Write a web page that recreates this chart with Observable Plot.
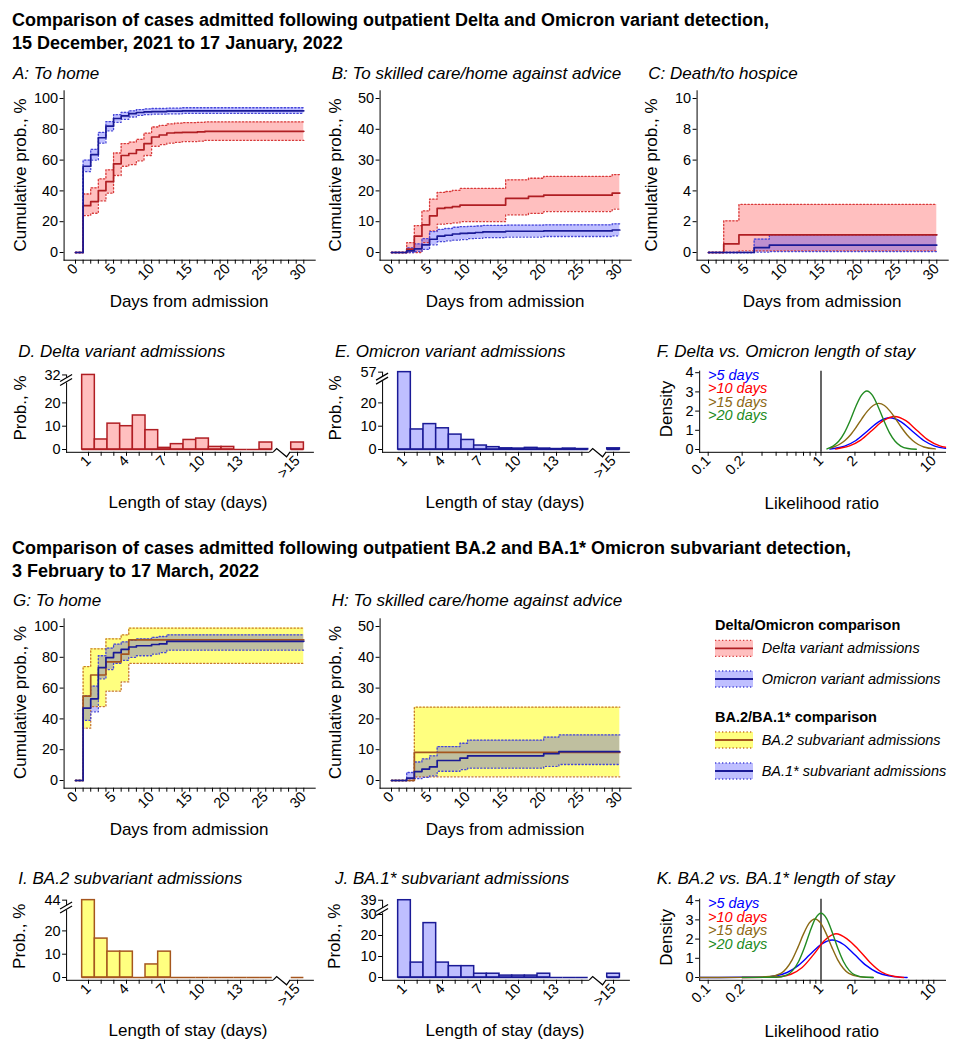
<!DOCTYPE html>
<html>
<head>
<meta charset="utf-8">
<script src="https://cdn.jsdelivr.net/npm/d3@7"></script>
<script src="https://cdn.jsdelivr.net/npm/@observablehq/plot@0.6"></script>
<style>
html,body{margin:0;padding:0;background:#fff;}
#page{position:relative;width:959px;height:1050px;overflow:hidden;background:#fff;}
.pw{position:absolute;}
.pw svg{background:transparent !important;overflow:visible;}
.pw g[aria-label$="axis"] text{font-family:"Liberation Sans",Arial,sans-serif;font-size:14.5px;fill:#000;}
#overlay{position:absolute;left:0;top:0;pointer-events:none;}
#overlay text{font-family:"Liberation Sans",Arial,sans-serif;}
</style>
</head>
<body>
<div id="page"></div>
<script>
// ======================= TEXT =======================
const sectionTitles = [
  ["Comparison of cases admitted following outpatient Delta and Omicron variant detection,", "15 December, 2021 to 17 January, 2022"],
  ["Comparison of cases admitted following outpatient BA.2 and BA.1* Omicron subvariant detection,", "3 February to 17 March, 2022"]
];
const panelTitles = {
  A: "A: To home", B: "B: To skilled care/home against advice", C: "C: Death/to hospice",
  D: "D. Delta variant admissions", E: "E. Omicron variant admissions", F: "F. Delta vs. Omicron length of stay",
  G: "G: To home", H: "H: To skilled care/home against advice",
  I: "I. BA.2 subvariant admissions", J: "J. BA.1* subvariant admissions", K: "K. BA.2 vs. BA.1* length of stay"
};
const axisTitles = {km: ["Days from admission", "Cumulative prob., %"], hist: ["Length of stay (days)", "Prob., %"], dens: ["Likelihood ratio", "Density"]};
const legendGroups = ["Delta/Omicron comparison", "BA.2/BA.1* comparison"];
const legendItems = ["Delta variant admissions", "Omicron variant admissions", "BA.2 subvariant admissions", "BA.1* subvariant admissions"];
const densLabels = [">5 days", ">10 days", ">15 days", ">20 days"];

// ======================= TICKS =======================
const kmTickValues = d3.range(0, 31);
const kmTickLabels = [0, 5, 10, 15, 20, 25, 30];
const kmYTicksA = [0, 20, 40, 60, 80, 100];
const kmYTicksB = [0, 10, 20, 30, 40, 50];
const kmYTicksC = [0, 2, 4, 6, 8, 10];
const histDays = [1, 2, 3, 4, 5, 6, 7, 8, 9, 10, 11, 12, 13, 14, 15, ">15"];
const histTickLabels = ["1", "4", "7", "10", "13", ">15"];
const densTickValues = [0.1, 0.2, 0.3, 0.4, 0.5, 0.6, 0.7, 0.8, 0.9, 1, 2, 3, 4, 5, 6, 7, 8, 9, 10];
const densTickLabels = [0.1, 0.2, 1, 2, 10];
const densYTicks = [0, 1, 2, 3, 4];

// ======================= KM DATA (cumulative prob., %) =======================
// Panel A: to home
const A_delta_t   = [0, 1, 2, 3, 4, 5, 6, 7, 8, 9, 10, 11, 12, 13, 14, 16, 17, 30];
const A_delta_est = [0, 30.4, 33.0, 40.2, 46.0, 57.6, 63.0, 64.3, 66.7, 70.7, 75.0, 76.3, 77.6, 77.8, 78.0, 78.3, 78.7, 78.7];
const A_delta_lo  = [0, 24.0, 25.5, 33.5, 38.5, 50.0, 56.0, 57.0, 59.5, 63.0, 69.0, 70.0, 71.0, 71.5, 72.0, 72.3, 72.8, 72.8];
const A_delta_hi  = [0, 38.0, 42.0, 47.8, 53.7, 64.6, 70.7, 71.7, 73.5, 77.5, 81.5, 82.5, 83.5, 84.0, 84.3, 84.5, 84.8, 84.8];
const A_omi_t   = [0, 1, 2, 3, 4, 5, 6, 7, 8, 9, 10, 12, 14, 30];
const A_omi_est = [0, 56.0, 63.5, 74.5, 82.0, 87.0, 88.7, 90.2, 90.9, 91.3, 91.5, 91.8, 92.0, 92.0];
const A_omi_lo  = [0, 52.5, 60.0, 71.0, 79.0, 84.5, 86.5, 88.0, 89.0, 89.5, 89.8, 90.0, 90.3, 90.3];
const A_omi_hi  = [0, 60.0, 67.0, 78.0, 85.0, 89.5, 91.0, 92.0, 92.8, 93.2, 93.5, 93.7, 94.0, 94.0];
// Panel B: to skilled care / home against advice
const B_delta_t   = [0, 2, 3, 4, 5, 6, 7, 8, 9, 15, 18, 20, 29, 30];
const B_delta_est = [0, 1.1, 5.3, 9.0, 11.9, 14.3, 14.6, 14.9, 15.4, 17.6, 18.2, 18.6, 19.3, 19.3];
const B_delta_lo  = [0, 0, 0, 3.2, 7.0, 9.2, 9.4, 9.6, 10.0, 12.2, 12.7, 13.3, 14.1, 14.1];
const B_delta_hi  = [0, 3.2, 8.7, 13.5, 17.3, 19.5, 19.8, 20.2, 20.8, 23.6, 24.1, 24.7, 25.3, 25.3];
const B_omi_t   = [0, 2, 3, 4, 5, 6, 7, 8, 9, 10, 11, 12, 15, 20, 29, 30];
const B_omi_est = [0, 0.5, 1.2, 2.5, 4.3, 5.3, 5.6, 6.0, 6.2, 6.3, 6.5, 6.7, 6.9, 7.0, 7.3, 7.3];
const B_omi_lo  = [0, 0, 0.3, 1.0, 2.5, 3.5, 3.8, 4.0, 4.2, 4.5, 4.6, 4.8, 5.0, 5.2, 5.4, 5.4];
const B_omi_hi  = [0, 1.5, 2.8, 4.5, 6.8, 7.5, 7.8, 8.2, 8.4, 8.5, 8.6, 8.8, 8.9, 9.0, 9.3, 9.3];
// Panel C: death / to hospice
const C_delta_t   = [0, 2, 4, 30];
const C_delta_est = [0, 0.56, 1.15, 1.15];
const C_delta_lo  = [0, 0, 0.1, 0.1];
const C_delta_hi  = [0, 2.06, 3.12, 3.12];
const C_omi_t   = [0, 6, 8, 30];
const C_omi_est = [0, 0.32, 0.48, 0.48];
const C_omi_lo  = [0, 0.03, 0.06, 0.06];
const C_omi_hi  = [0, 0.87, 1.15, 1.15];
// Panel G: to home (BA.2 vs BA.1*)
const G_ba2_t   = [0, 1, 2, 4, 6, 7, 30];
const G_ba2_est = [0, 54.8, 68.5, 77.0, 82.0, 91.3, 91.3];
const G_ba2_lo  = [0, 34.0, 48.0, 58.0, 64.0, 76.0, 76.0];
const G_ba2_hi  = [0, 74.0, 85.5, 92.0, 94.5, 99.0, 99.0];
const G_ba1_t   = [0, 1, 2, 3, 4, 5, 6, 7, 8, 10, 11, 12, 30];
const G_ba1_est = [0, 47.0, 53.0, 73.3, 79.8, 83.0, 85.2, 86.7, 87.5, 88.3, 88.7, 90.4, 90.4];
const G_ba1_lo  = [0, 39.0, 44.6, 66.0, 72.0, 76.0, 78.0, 80.0, 81.0, 82.0, 83.0, 84.6, 84.6];
const G_ba1_hi  = [0, 55.0, 61.3, 81.0, 86.0, 88.5, 90.0, 91.0, 92.0, 93.0, 93.5, 94.6, 94.6];
// Panel H: to skilled care / home against advice (BA.2 vs BA.1*)
const H_ba2_t   = [0, 3, 30];
const H_ba2_est = [0, 9.1, 9.1];
const H_ba2_lo  = [0, 1.2, 1.2];
const H_ba2_hi  = [0, 23.8, 23.8];
const H_ba1_t   = [0, 2, 3, 4, 5, 6, 9, 10, 20, 22, 30];
const H_ba1_est = [0, 0.8, 2.9, 3.7, 4.4, 6.5, 7.25, 8.0, 8.7, 9.4, 9.4];
const H_ba1_lo  = [0, 0, 0.6, 1.0, 1.5, 3.0, 3.5, 4.0, 4.6, 5.2, 5.2];
const H_ba1_hi  = [0, 2.6, 6.0, 7.0, 8.0, 11.0, 12.1, 13.1, 14.1, 14.8, 14.8];

// ======================= HISTOGRAM DATA (prob., %) =======================
const D_vals = [32, 4.3, 11.1, 10.0, 14.6, 8.3, 0.7, 2.3, 4.1, 4.7, 1.1, 1.1, 0, 0, 3.0, 3.0];
const E_vals = [57, 8.6, 10.9, 9.1, 6.4, 4.1, 1.7, 1.0, 0.5, 0.4, 0.7, 0.4, 0.2, 0.4, 0.2, 0.5];
const I_vals = [44, 16.7, 11.1, 11.1, 0, 5.6, 11.1, 0, 0, 0, 0, 0, 0, 0, 0, 0];
const J_vals = [39, 7.1, 25.9, 7.1, 5.4, 5.4, 1.8, 1.8, 0.9, 0.9, 0.9, 1.8, 0, 0, 0, 1.8];

// ======================= DENSITY DATA (likelihood ratio, density) =======================
const F_x5  = [1.2, 1.29, 1.62, 2.04, 2.57, 3.24, 4.07, 5.13, 6.46, 8.13, 10.2, 12.7];
const F_y5  = [0.02, 0.05, 0.18, 0.47, 0.95, 1.44, 1.65, 1.44, 0.95, 0.47, 0.18, 0.06];
const F_x10 = [1.35, 1.42, 1.79, 2.25, 2.83, 3.57, 4.49, 5.65, 7.11, 8.95, 11.3, 12.7];
const F_y10 = [0.02, 0.05, 0.19, 0.49, 0.99, 1.50, 1.72, 1.50, 0.99, 0.49, 0.19, 0.12];
const F_x15 = [1.2, 1.29, 1.45, 1.63, 1.83, 2.05, 2.30, 2.58, 2.90, 3.25, 3.65, 4.09, 4.59, 5.15, 5.78, 6.49, 7.28, 8.17, 10.3];
const F_y15 = [0.06, 0.13, 0.26, 0.47, 0.77, 1.16, 1.60, 2.00, 2.29, 2.40, 2.29, 2.00, 1.60, 1.16, 0.77, 0.47, 0.26, 0.13, 0.03];
const F_x20 = [1.13, 1.28, 1.435, 1.61, 1.81, 2.03, 2.28, 2.55, 2.86, 3.21, 3.61, 4.05, 4.54, 5.09, 5.9, 7.0];
const F_y20 = [0.03, 0.18, 0.43, 0.87, 1.50, 2.23, 2.82, 3.05, 2.82, 2.23, 1.50, 0.87, 0.43, 0.18, 0.05, 0.01];
const K_x5  = [0.084, 0.2, 0.316, 0.398, 0.501, 0.631, 0.794, 1.0, 1.259, 1.585, 1.995, 2.512, 3.162, 3.98, 5.01, 5.8];
const K_y5  = [0, 0.01, 0.02, 0.09, 0.26, 0.63, 1.18, 1.72, 1.95, 1.72, 1.18, 0.63, 0.26, 0.09, 0.02, 0];
const K_x10 = [0.2, 0.341, 0.43, 0.541, 0.681, 0.858, 1.08, 1.358, 1.71, 2.153, 2.71, 3.41, 4.3, 5.4];
const K_y10 = [0, 0.01, 0.04, 0.17, 0.52, 1.19, 1.94, 2.28, 2.0, 1.45, 0.8, 0.3, 0.08, 0];
const K_x15 = [0.084, 0.2, 0.35, 0.441, 0.495, 0.556, 0.624, 0.7, 0.785, 0.885, 0.994, 1.114, 1.25, 1.403, 1.574, 1.766, 2.223, 2.9];
const K_y15 = [0, 0.005, 0.05, 0.21, 0.48, 0.93, 1.57, 2.27, 2.83, 3.05, 2.83, 2.27, 1.57, 0.93, 0.48, 0.21, 0.03, 0];
const K_x20 = [0.2, 0.398, 0.501, 0.562, 0.631, 0.708, 0.794, 0.891, 1.0, 1.122, 1.259, 1.413, 1.585, 1.778, 1.995, 2.512, 2.9];
const K_y20 = [0, 0.01, 0.14, 0.37, 0.82, 1.51, 2.35, 3.07, 3.35, 3.07, 2.35, 1.51, 0.82, 0.37, 0.14, 0.01, 0];

// ======================= STYLES =======================
const STY = {
  delta:   {fill: "#FF0000", op: 0.25, line: "#B01E23", dot: "#D83A3A", bar: "#FFBFBF"},
  omicron: {fill: "#0000FF", op: 0.25, line: "#1A1A96", dot: "#4646D8", bar: "#BFBFFF"},
  ba2:     {fill: "#FFFF00", op: 0.5,  line: "#A5561E", dot: "#C8782A", bar: "#FFFF80"},
  ba1:     {fill: "#0000FF", op: 0.25, line: "#1A1A96", dot: "#4646D8", bar: "#BFBFFF"}
};
const densColors = ["#0000FF", "#FF0000", "#8B6914", "#228B22"];

// ======================= BUILD =======================
const page = d3.select("#page");
const SECTION_DY = 527.5;
const FONT = '"Liberation Sans", Arial, sans-serif';

function rows(t, est, lo, hi) { return t.map((v, i) => ({t: v, est: est[i], lo: lo[i], hi: hi[i]})); }
function mount(svg, left, top) {
  page.append("div").attr("class", "pw").style("left", left + "px").style("top", top + "px").node().appendChild(svg);
}
function lin(svg, name) {
  const s = svg.scale(name);
  if (s.type === "log") return d3.scaleLog(s.domain, s.range);
  return d3.scaleLinear(s.domain, s.range);
}

const PPD = 228.3 / 30;
function kmPanel(x0, y0, yMax, yTicks, series) {
  const W = 320, H = 260, pH = 154;
  const left = x0 - 75, top = y0 - 192;
  const marks = [];
  for (const s of series) marks.push(Plot.areaY(s.data, {x: "t", y1: "lo", y2: "hi", curve: "step-after", fill: s.sty.fill, fillOpacity: s.sty.op}));
  for (const s of series) {
    marks.push(Plot.line(s.data, {x: "t", y: "lo", curve: "step-after", stroke: s.sty.dot, strokeWidth: 1.3, strokeDasharray: "1.3,2.2"}));
    marks.push(Plot.line(s.data, {x: "t", y: "hi", curve: "step-after", stroke: s.sty.dot, strokeWidth: 1.3, strokeDasharray: "1.3,2.2"}));
  }
  for (const s of series) marks.push(Plot.line(s.data, {x: "t", y: "est", curve: "step-after", stroke: s.sty.line, strokeWidth: 1.7}));
  const svg = Plot.plot({
    width: W, height: H,
    marginLeft: 75 - 1.5 * PPD, marginRight: W - 75 - 31.5 * PPD,
    marginTop: 192 - 1.05 * pH, marginBottom: H - 192 - 0.05 * pH,
    x: {domain: [-1.5, 31.5], ticks: kmTickValues, tickFormat: d => kmTickLabels.includes(d) ? String(d) : "", tickSize: 4, tickPadding: 2, tickRotate: -45, line: true, label: null},
    y: {domain: [-0.05 * yMax, 1.05 * yMax], ticks: yTicks, tickFormat: d => String(d), tickSize: 4, tickPadding: 2, line: true, label: null},
    style: {background: "transparent", color: "black", overflow: "visible", fontFamily: FONT, fontSize: "14.5px"},
    marks
  });
  mount(svg, left, top);
}

const PPK = 12.67;
function histPanel(x1, y0, ppu, topDisp, topLabel, yTicksLow, breakAt, vals, sty) {
  const W = 320, H = 190, axisPx = 2.8;
  const left = x1 - 88, top = y0 - 119;
  const xd = [-0.73, 18.75];
  const yd = [-axisPx / ppu, topDisp];
  const pos = d => d === ">15" ? 17.5 : d;
  const data = histDays.map((d, i) => ({d, p: pos(d), v: vals[i], disp: vals[i] > 30 ? topDisp : vals[i]}));
  const tickPos = histDays.map(pos);
  const labelPos = histTickLabels.map(l => pos(l === ">15" ? ">15" : +l));
  const yt = yTicksLow.concat([topDisp]);
  const svg = Plot.plot({
    width: W, height: H,
    marginLeft: 88 - (1 - xd[0]) * PPK, marginRight: W - 88 - (xd[1] - 1) * PPK,
    marginTop: 119 - topDisp * ppu, marginBottom: H - 119 - axisPx,
    x: {domain: xd, ticks: tickPos, tickFormat: v => labelPos.includes(v) ? histTickLabels[labelPos.indexOf(v)] : "", tickSize: 4, tickPadding: 2, tickRotate: -45, line: true, label: null},
    y: {domain: yd, ticks: yt, tickFormat: v => v === topDisp ? String(topLabel) : String(v), tickSize: 4, tickPadding: 2, line: true, label: null},
    style: {background: "transparent", color: "black", overflow: "visible", fontFamily: FONT, fontSize: "14.5px"},
    marks: [
      Plot.rect(data, {x1: d => d.p - 0.5, x2: d => d.p + 0.5, y1: 0, y2: "disp", fill: sty.bar, stroke: sty.line, strokeWidth: 1.5}),
      Plot.ruleY(data, {x1: d => d.p - 0.5, x2: d => d.p + 0.5, y: 0, stroke: sty.line, strokeWidth: 1.5})
    ]
  });
  // axis breaks, positioned through the plot's own scales
  const X = lin(svg, "x"), Y = lin(svg, "y");
  const g = d3.select(svg).append("g");
  const ya = Y(yd[0]), xa = X(15.63), xb = X(16.95);
  g.append("rect").attr("x", xa).attr("y", ya - 2.5).attr("width", xb - xa).attr("height", 5).attr("fill", "white");
  g.append("path").attr("d", `M${xa},${ya}L${xa + 3.3},${ya - 3.3}L${xb - 3.5},${ya + 5}L${xb},${ya}`)
    .attr("fill", "none").attr("stroke", "black").attr("stroke-width", 1.2);
  const xA = X(xd[0]), yc = Y(breakAt);
  g.append("rect").attr("x", xA - 2).attr("y", yc - 2.5).attr("width", 4).attr("height", 5).attr("fill", "white");
  for (const o of [-2, 2]) {
    g.append("line").attr("x1", xA - 6).attr("y1", yc + o + 3.5).attr("x2", xA + 6).attr("y2", yc + o - 3.5)
      .attr("stroke", "black").attr("stroke-width", 1.2);
  }
  mount(svg, left, top);
}

const PPDEC = 112.8;
function densPanel(x01, y0, curves) {
  const W = 319, H = 190, axisPx = 2.8, ppu = 19.2;
  const left = x01 - 67.7, top = y0 - 119;
  const xd = [0.084, 12.7];
  const yd = [-axisPx / ppu, 4.08];
  const marks = [Plot.ruleX([1], {stroke: "black", strokeWidth: 1.2})];
  curves.forEach((c, i) => {
    const data = c[0].map((x, j) => ({x, y: c[1][j]}));
    marks.push(Plot.line(data, {x: "x", y: "y", curve: "monotone-x", stroke: densColors[i], strokeWidth: 1.4}));
  });
  const svg = Plot.plot({
    width: W, height: H,
    marginLeft: 67.7 - PPDEC * Math.log10(0.1 / xd[0]), marginRight: W - 67.7 - PPDEC * Math.log10(xd[1] / 0.1),
    marginTop: 119 - yd[1] * ppu, marginBottom: H - 119 - axisPx,
    x: {type: "log", domain: xd, ticks: densTickValues, tickFormat: v => densTickLabels.includes(v) ? String(v) : "", tickSize: 4, tickPadding: 2, tickRotate: -45, line: true, label: null},
    y: {domain: yd, ticks: densYTicks, tickFormat: v => String(v), tickSize: 4, tickPadding: 2, line: true, label: null},
    style: {background: "transparent", color: "black", overflow: "visible", fontFamily: FONT, fontSize: "14.5px"},
    marks
  });
  mount(svg, left, top);
}

// --- Section 1 ---
kmPanel(75, 252, 100, kmYTicksA, [
  {data: rows(A_delta_t, A_delta_est, A_delta_lo, A_delta_hi), sty: STY.delta},
  {data: rows(A_omi_t, A_omi_est, A_omi_lo, A_omi_hi), sty: STY.omicron}]);
kmPanel(391, 252, 50, kmYTicksB, [
  {data: rows(B_delta_t, B_delta_est, B_delta_lo, B_delta_hi), sty: STY.delta},
  {data: rows(B_omi_t, B_omi_est, B_omi_lo, B_omi_hi), sty: STY.omicron}]);
kmPanel(708, 252, 10, kmYTicksC, [
  {data: rows(C_delta_t, C_delta_est, C_delta_lo, C_delta_hi), sty: STY.delta},
  {data: rows(C_omi_t, C_omi_est, C_omi_lo, C_omi_hi), sty: STY.omicron}]);
histPanel(88, 449, 2.33, 32, 32, [0, 10, 20], 29.6, D_vals, STY.delta);
histPanel(404, 449, 2.33, 33.2, 57, [0, 10, 20], 30.2, E_vals, STY.omicron);
densPanel(707.7, 449, [[F_x5, F_y5], [F_x10, F_y10], [F_x15, F_y15], [F_x20, F_y20]]);

// --- Section 2 ---
kmPanel(75, 252 + SECTION_DY, 100, kmYTicksA, [
  {data: rows(G_ba2_t, G_ba2_est, G_ba2_lo, G_ba2_hi), sty: STY.ba2},
  {data: rows(G_ba1_t, G_ba1_est, G_ba1_lo, G_ba1_hi), sty: STY.ba1}]);
kmPanel(391, 252 + SECTION_DY, 50, kmYTicksB, [
  {data: rows(H_ba2_t, H_ba2_est, H_ba2_lo, H_ba2_hi), sty: STY.ba2},
  {data: rows(H_ba1_t, H_ba1_est, H_ba1_lo, H_ba1_hi), sty: STY.ba1}]);
histPanel(88, 976.7, 2.33, 33.2, 44, [0, 10, 20], 29.8, I_vals, STY.ba2);
histPanel(404, 976.7, 2.1, 36.8, 39, [0, 10, 20, 30], 31.9, J_vals, STY.ba1);
densPanel(707.7, 976.7, [[K_x5, K_y5], [K_x10, K_y10], [K_x15, K_y15], [K_x20, K_y20]]);

// ======================= OVERLAY TEXT & LEGEND =======================
const ov = page.append("svg").attr("id", "overlay").attr("width", 959).attr("height", 1050);
function txt(x, y, s, o = {}) {
  const t = ov.append("text").attr("x", x).attr("y", y).text(s)
    .attr("font-size", o.size || 17).attr("font-weight", o.weight || "normal").attr("font-style", o.style || "normal")
    .attr("text-anchor", o.anchor || "start").attr("dominant-baseline", "central").attr("fill", o.fill || "#000");
  if (o.rotate) t.attr("transform", `rotate(${o.rotate},${x},${y})`);
  return t;
}
[0, 1].forEach(s => {
  const dy = s * SECTION_DY;
  txt(12, 20 + dy, sectionTitles[s][0], {weight: "bold", size: 18});
  txt(12, 43 + dy, sectionTitles[s][1], {weight: "bold", size: 18});
});
const titlePos = {A: [13, 73.3], B: [331.7, 73.3], C: [648.3, 73.3], D: [18.3, 351.7], E: [335, 351.7], F: [656.7, 351.7],
  G: [13, 600.8], H: [331.7, 600.8], I: [18.3, 878.3], J: [335, 878.3], K: [656.7, 878.3]};
for (const k in titlePos) txt(titlePos[k][0], titlePos[k][1], panelTitles[k], {style: "italic", size: 17});

// axis titles
[[20, 189, 0], [335, 505, 0], [651.7, 822, 0], [20, 189, SECTION_DY], [335, 505, SECTION_DY]].forEach(([yx, xx, dy]) => {
  txt(yx, 175 + dy, axisTitles.km[1], {anchor: "middle", rotate: -90});
  txt(xx, 301.7 + dy, axisTitles.km[0], {anchor: "middle"});
});
[[20, 188, 0], [335, 505, 0], [20, 188, SECTION_DY + 0.8], [335, 505, SECTION_DY + 0.8]].forEach(([yx, xx, dy]) => {
  txt(yx, 408 + dy, axisTitles.hist[1], {anchor: "middle", rotate: -90});
  txt(xx, 502 + dy, axisTitles.hist[0], {anchor: "middle"});
});
[0, SECTION_DY + 0.8].forEach(dy => {
  txt(666.7, 409 + dy, axisTitles.dens[1], {anchor: "middle", rotate: -90});
  txt(821.7, 503.3 + dy, axisTitles.dens[0], {anchor: "middle"});
  densLabels.forEach((l, i) => txt(708, 375 + i * 13.4 + dy, l, {style: "italic", size: 14.5, fill: densColors[i]}));
});

// legend
const lg = [
  {title: legendGroups[0], y: 625, items: [[legendItems[0], STY.delta, 648.3], [legendItems[1], STY.omicron, 679]]},
  {title: legendGroups[1], y: 716.7, items: [[legendItems[2], STY.ba2, 740], [legendItems[3], STY.ba1, 771]]}
];
lg.forEach(grp => {
  txt(715, grp.y, grp.title, {weight: "bold", size: 14.5});
  grp.items.forEach(([label, st, cy]) => {
    ov.append("rect").attr("x", 715).attr("y", cy - 8).attr("width", 38).attr("height", 16).attr("fill", st.fill).attr("fill-opacity", st.op);
    [cy - 8, cy + 8].forEach(yy => ov.append("line").attr("x1", 715).attr("x2", 753).attr("y1", yy).attr("y2", yy)
      .attr("stroke", st.dot).attr("stroke-width", 1.3).attr("stroke-dasharray", "1.3,2.2"));
    ov.append("line").attr("x1", 715).attr("x2", 753).attr("y1", cy).attr("y2", cy).attr("stroke", st.line).attr("stroke-width", 1.8);
    txt(761.7, cy, label, {style: "italic", size: 14.5});
  });
});
</script>
</body>
</html>
